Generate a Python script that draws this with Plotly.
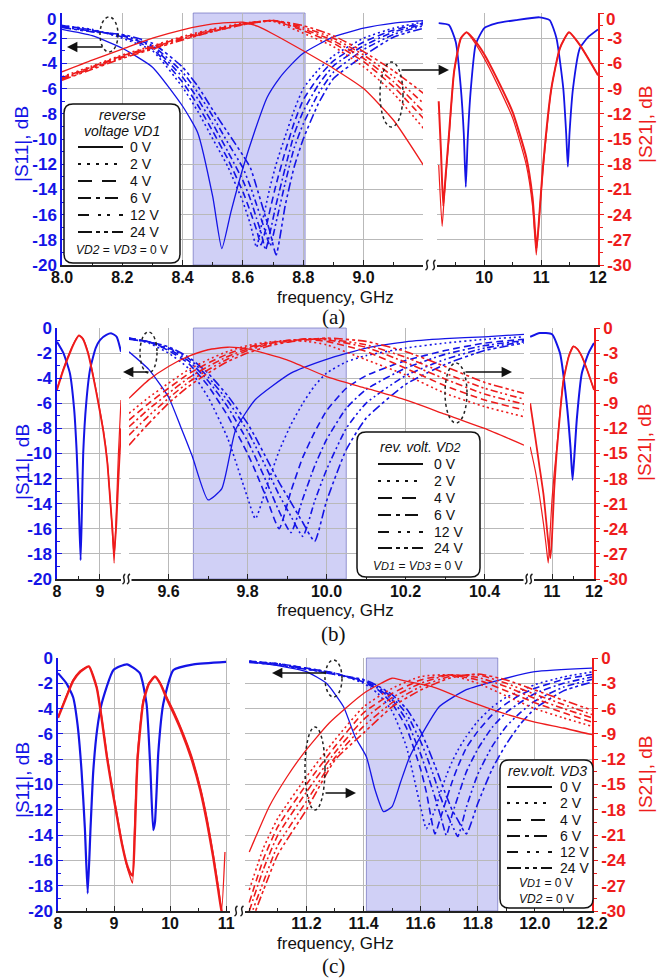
import plotly.graph_objects as go

# the page body has an 8px margin: figure is drawn 8px right/down of the window corner
OFF = 8
W, H = 666 - OFF, 978 - OFF
def px(x): return (x - OFF) / W
def py(y): return 1 - (y - OFF) / H

BLUE = "#1414e6"
RED = "#ee1c1c"
GRID = "#b9b9b9"
FONT = "Liberation Sans, Arial, sans-serif"
SERIF = "Liberation Serif, Times New Roman, serif"

VOLTS = ["0 V", "2 V", "4 V", "6 V", "12 V", "24 V"]
DASHES = ["solid", "2px,3px", "7px,4px", "7px,3px,2px,3px", "7px,3px,2px,3px,2px,3px", "9px,3px,3px,3px,3px,3px"]
LEG_DASHES = ["solid", "3px,6px", "14px,10px", "13px,5px,4px,5px", "11px,9px,3px,6px,3px,9px", "14px,4px,4px,4px,4px,4px"]

# ---------------- panel (a): reverse voltage VD1 ----------------
A_F11_0 = [8.0, 8.1, 8.2, 8.3, 8.4, 8.45, 8.5, 8.53, 8.56, 8.6, 8.64, 8.68, 8.72, 8.76, 8.8, 8.85, 8.9, 9.0, 9.1, 9.2]
A_S11_0 = [-1.3, -1.8, -2.8, -4.3, -7.4, -9.5, -14.6, -18.7, -15.8, -12.3, -9.3, -6.7, -5.2, -4.1, -3.2, -2.5, -1.9, -1.2, -0.8, -0.6]
A_F11 = [8.0, 8.1, 8.2, 8.3, 8.4, 8.45, 8.5, 8.55, 8.6, 8.625, 8.645, 8.66, 8.675, 8.69, 8.71, 8.74, 8.77, 8.8, 8.85, 8.9, 9.0, 9.1, 9.2]
A_S11_2 = [-1.0, -1.3, -2.0, -3.0, -5.9, -7.8, -10.0, -12.2, -15.0, -16.8, -18.6, -17.0, -15.4, -13.8, -12.0, -9.8, -7.7, -6.0, -4.5, -3.4, -2.0, -1.2, -0.7]
A_S11_4 = [-1.0, -1.35, -1.9, -2.85, -5.5, -7.3, -9.4, -11.6, -14.2, -15.8, -17.2, -18.4, -17.2, -15.6, -13.6, -11.0, -8.7, -6.9, -5.1, -3.8, -2.3, -1.35, -0.8]
A_S11_6 = [-1.05, -1.4, -1.8, -2.7, -5.1, -6.8, -8.8, -11.0, -13.3, -14.8, -16.3, -17.4, -18.8, -17.4, -15.2, -12.3, -9.6, -7.8, -5.7, -4.2, -2.6, -1.5, -0.9]
A_S11_12 = [-1.1, -1.45, -1.75, -2.6, -4.7, -6.3, -8.2, -10.3, -12.3, -13.8, -15.2, -16.3, -17.4, -18.5, -16.6, -13.5, -10.7, -8.8, -6.4, -4.7, -2.9, -1.7, -1.0]
A_S11_24 = [-1.15, -1.5, -1.7, -2.4, -4.3, -5.8, -7.7, -9.5, -11.3, -12.3, -13.8, -15.0, -16.2, -17.4, -19.2, -15.3, -12.2, -10.0, -7.2, -5.2, -3.4, -1.9, -1.2]

A_F21_0 = [8.0, 8.1, 8.2, 8.3, 8.4, 8.5, 8.6, 8.65, 8.7, 8.8, 8.9, 9.0, 9.1, 9.2]
A_S21_0 = [-7.0, -5.6, -4.3, -3.0, -2.0, -1.3, -1.1, -1.6, -2.5, -4.5, -6.6, -9.0, -12.8, -18.2]
A_F21 = [8.0, 8.1, 8.2, 8.3, 8.4, 8.5, 8.6, 8.7, 8.8, 8.9, 9.0, 9.1, 9.2]
A_S21_2 = [-7.6, -6.3, -5.0, -3.9, -2.8, -1.9, -1.2, -1.0, -2.4, -4.0, -6.4, -9.6, -13.8]
A_S21_4 = [-7.7, -6.4, -5.1, -4.0, -2.9, -2.0, -1.3, -0.9, -2.1, -3.6, -5.8, -8.8, -12.6]
A_S21_6 = [-7.8, -6.5, -5.2, -4.1, -3.0, -2.1, -1.3, -0.9, -1.9, -3.3, -5.4, -8.2, -11.8]
A_S21_12 = [-7.9, -6.6, -5.3, -4.2, -3.1, -2.2, -1.4, -0.9, -1.7, -3.0, -5.0, -7.6, -10.8]
A_S21_24 = [-8.0, -6.7, -5.4, -4.3, -3.2, -2.2, -1.4, -0.9, -1.5, -2.7, -4.6, -6.9, -9.6]

A_R_F11 = [9.2, 9.38, 9.5, 9.59, 9.64, 9.676, 9.71, 9.765, 9.85, 10.0, 10.21, 10.56, 10.97, 11.15, 11.27, 11.39, 11.44, 11.47, 11.5, 11.56, 11.68, 11.83, 12.0]
A_R_S11 = [-0.8, -0.95, -2.3, -6.0, -9.5, -13.8, -10.0, -6.0, -2.5, -1.2, -0.82, -0.56, -0.34, -0.56, -2.0, -6.0, -9.5, -12.2, -9.5, -6.0, -2.8, -1.9, -1.3]
A_R_F21_0 = [9.2, 9.26, 9.3, 9.38, 9.47, 9.59, 9.69, 9.8, 10.0, 10.21, 10.5, 10.74, 10.85, 10.915, 10.97, 11.03, 11.18, 11.33, 11.49, 11.68, 12.0]
A_R_S21_0 = [-18.1, -25.4, -21.5, -14.9, -7.0, -3.0, -2.3, -3.2, -5.4, -8.2, -12.5, -18.1, -23.0, -28.8, -24.0, -18.9, -9.0, -4.2, -2.3, -3.8, -7.4]
A_R_F21_V = [9.2, 9.24, 9.28, 9.32, 9.38, 9.47, 9.59, 9.69, 9.8, 10.0, 10.21, 10.5, 10.74, 10.85, 10.92, 10.97, 11.03, 11.18, 11.33, 11.49, 11.68, 12.0]
A_R_S21_V = [-10.5, -16.5, -23.0, -19.5, -14.5, -7.0, -3.0, -2.3, -3.0, -4.9, -7.6, -11.8, -17.2, -22.0, -28.0, -24.0, -18.5, -9.0, -4.2, -2.3, -3.8, -7.4]

# ---------------- panel (b): reverse voltage VD2 ----------------
B_L_F11 = [8.0, 8.15, 8.3, 8.4, 8.46, 8.51, 8.55, 8.58, 8.61, 8.68, 8.77, 8.9, 9.0, 9.15, 9.27, 9.39, 9.49]
B_L_S11 = [-1.1, -2.0, -3.6, -6.5, -10.0, -14.5, -18.5, -14.5, -10.0, -6.0, -3.3, -1.6, -0.96, -0.55, -0.43, -0.7, -1.9]
B_L_F21 = [8.0, 8.15, 8.3, 8.42, 8.51, 8.6, 8.72, 8.85, 8.97, 9.08, 9.17, 9.23, 9.29, 9.33, 9.38, 9.43, 9.49]
B_L_S21_0 = [-7.2, -4.8, -2.8, -1.5, -0.84, -1.2, -2.8, -5.8, -9.0, -12.2, -15.8, -19.8, -24.5, -28.1, -22.0, -15.0, -8.6]
B_L_S21_V = [-7.4, -5.0, -3.0, -1.6, -0.9, -1.3, -3.0, -6.0, -9.2, -12.4, -16.0, -20.0, -24.0, -27.0, -23.5, -18.0, -12.0]

B_M_F0 = [9.5, 9.55, 9.6, 9.63, 9.66, 9.70, 9.735, 9.77, 9.82, 9.91, 10.0, 10.1, 10.2, 10.3, 10.4, 10.5]
B_M_S11_0 = [-1.9, -3.3, -5.5, -7.8, -10.2, -13.7, -12.8, -8.1, -5.7, -3.6, -2.5, -1.6, -1.1, -0.85, -0.7, -0.5]
B_M_F = [9.5, 9.55, 9.6, 9.65, 9.7, 9.75, 9.8, 9.82, 9.85, 9.88, 9.91, 9.94, 9.97, 10.0, 10.05, 10.1, 10.2, 10.3, 10.4, 10.5]
B_M_S11_2 = [-0.8, -1.2, -2.0, -3.2, -5.5, -8.8, -13.5, -15.2, -12.5, -9.8, -7.7, -6.0, -4.6, -3.6, -2.7, -2.2, -1.6, -1.2, -0.9, -0.7]
B_M_S11_4 = [-0.8, -1.1, -1.8, -2.8, -4.6, -7.0, -10.0, -11.4, -13.7, -16.0, -13.0, -10.3, -8.3, -6.6, -4.8, -3.8, -2.6, -1.8, -1.2, -0.9]
B_M_S11_6 = [-0.85, -1.1, -1.7, -2.6, -4.2, -6.3, -9.0, -10.3, -12.4, -14.6, -16.3, -13.6, -11.0, -8.9, -6.4, -4.9, -3.2, -2.1, -1.4, -1.0]
B_M_S11_12 = [-0.85, -1.1, -1.6, -2.4, -3.9, -5.8, -8.2, -9.4, -11.3, -13.3, -15.0, -16.6, -13.8, -11.3, -8.0, -6.0, -3.8, -2.5, -1.6, -1.1]
B_M_S11_24 = [-0.9, -1.1, -1.5, -2.3, -3.6, -5.4, -7.6, -8.7, -10.5, -12.3, -13.9, -15.5, -17.0, -13.8, -9.7, -7.2, -4.5, -2.9, -1.8, -1.2]

B_M_F21_0 = [9.5, 9.55, 9.6, 9.65, 9.7, 9.75, 9.8, 9.9, 10.0, 10.1, 10.2, 10.3, 10.4, 10.5]
B_M_S21_0 = [-8.4, -6.2, -4.6, -3.4, -2.6, -2.3, -2.5, -3.8, -5.8, -7.2, -8.6, -10.3, -12.0, -14.0]
B_M_F21 = [9.5, 9.55, 9.6, 9.65, 9.7, 9.75, 9.8, 9.85, 9.9, 9.95, 10.0, 10.1, 10.2, 10.3, 10.4, 10.5]
B_M_S21_2 = [-10.2, -8.3, -6.6, -5.0, -3.8, -2.8, -2.1, -1.7, -1.5, -1.6, -2.0, -3.8, -5.6, -7.8, -9.4, -10.6]
B_M_S21_4 = [-11.0, -9.0, -7.2, -5.5, -4.2, -3.1, -2.3, -1.8, -1.5, -1.4, -1.6, -2.8, -4.8, -6.9, -8.6, -9.8]
B_M_S21_6 = [-11.8, -9.7, -7.8, -6.0, -4.6, -3.4, -2.5, -1.9, -1.5, -1.3, -1.4, -2.3, -4.1, -6.1, -7.9, -9.1]
B_M_S21_12 = [-12.8, -10.5, -8.4, -6.5, -5.0, -3.7, -2.7, -2.0, -1.6, -1.3, -1.3, -2.0, -3.5, -5.4, -7.2, -8.5]
B_M_S21_24 = [-14.0, -11.4, -9.0, -7.0, -5.4, -4.0, -3.0, -2.2, -1.7, -1.4, -1.2, -1.6, -2.8, -4.6, -6.5, -7.8]

B_R_F11 = [10.48, 10.71, 11.0, 11.19, 11.35, 11.44, 11.49, 11.54, 11.59, 11.71, 11.87, 12.0]
B_R_S11 = [-0.7, -0.4, -0.5, -2.0, -6.0, -9.5, -12.1, -9.8, -7.3, -3.6, -2.0, -1.2]
B_R_F21 = [10.48, 10.6, 10.7, 10.8, 10.86, 10.91, 10.96, 11.0, 11.05, 11.11, 11.2, 11.27, 11.4, 11.51, 11.6, 11.71, 11.85, 12.0]
B_R_S21_0 = [-14.2, -17.0, -20.0, -23.5, -26.0, -28.1, -24.0, -20.5, -17.5, -14.5, -9.5, -6.2, -3.3, -2.2, -2.5, -3.4, -5.2, -7.4]
B_R_S21_V = [-9.0, -13.0, -16.5, -20.0, -23.0, -25.5, -27.5, -25.0, -19.5, -15.0, -9.8, -6.4, -3.4, -2.2, -2.5, -3.4, -5.2, -7.4]

# ---------------- panel (c): reverse voltage VD3 ----------------
C_L_F11 = [8.0, 8.15, 8.27, 8.35, 8.42, 8.48, 8.53, 8.58, 8.63, 8.7, 8.78, 8.99, 9.23, 9.46, 9.58, 9.65, 9.7, 9.73, 9.76, 9.79, 9.88, 10.06, 10.42, 11.0]
C_L_S11 = [-1.2, -2.0, -3.1, -5.3, -8.9, -13.5, -18.6, -13.5, -8.9, -5.6, -3.6, -0.95, -0.5, -1.2, -3.6, -8.9, -13.6, -13.0, -10.5, -7.5, -3.6, -0.95, -0.5, -0.3]
C_L_F21 = [8.0, 8.15, 8.27, 8.4, 8.55, 8.69, 8.78, 8.87, 8.96, 9.05, 9.14, 9.23, 9.29, 9.33, 9.37, 9.42, 9.52, 9.62, 9.73, 9.83, 9.94, 10.08, 10.21, 10.38, 10.54, 10.66, 10.77, 10.86, 10.92, 10.98]
C_L_S21_0 = [-7.0, -4.5, -2.6, -1.5, -1.0, -3.4, -7.0, -11.3, -15.0, -18.4, -21.8, -24.7, -26.0, -26.7, -19.5, -11.3, -5.0, -3.0, -2.2, -3.0, -4.6, -6.5, -8.5, -11.5, -15.3, -19.0, -23.2, -27.0, -29.9, -23.0]
C_L_S21_V = [-7.1, -4.6, -2.7, -1.6, -1.0, -3.5, -7.2, -11.6, -15.3, -18.7, -22.0, -24.5, -25.5, -25.8, -21.0, -12.0, -5.3, -3.1, -2.2, -3.1, -4.8, -6.8, -8.8, -11.9, -15.7, -19.5, -23.6, -27.5, -30.0, -31.0]

C_R_F0 = [11.0, 11.1, 11.2, 11.27, 11.33, 11.37, 11.41, 11.44, 11.47, 11.50, 11.53, 11.56, 11.6, 11.665, 11.76, 11.875, 12.0, 12.2]
C_R_S11_0 = [-0.29, -0.6, -1.08, -2.0, -3.85, -6.2, -7.8, -10.4, -12.15, -11.75, -9.8, -7.9, -6.2, -3.85, -2.5, -1.74, -1.08, -0.8]
C_R_F = [11.0, 11.1, 11.2, 11.3, 11.4, 11.45, 11.5, 11.55, 11.6, 11.62, 11.65, 11.67, 11.69, 11.71, 11.73, 11.76, 11.8, 11.85, 11.9, 11.95, 12.0, 12.1, 12.2]
C_R_S11_2 = [-0.25, -0.45, -0.8, -1.2, -2.0, -2.8, -4.2, -7.0, -11.8, -13.5, -12.0, -10.6, -9.3, -8.2, -7.3, -6.2, -5.0, -3.9, -3.1, -2.6, -2.1, -1.5, -1.1]
C_R_S11_4 = [-0.25, -0.45, -0.8, -1.2, -1.9, -2.5, -3.6, -5.5, -8.8, -10.6, -13.9, -12.6, -11.2, -9.8, -8.6, -7.1, -5.8, -4.5, -3.6, -2.9, -2.4, -1.7, -1.3]
C_R_S11_6 = [-0.3, -0.5, -0.85, -1.25, -1.8, -2.4, -3.3, -4.9, -7.6, -8.9, -11.0, -12.5, -14.0, -12.4, -11.0, -9.0, -7.2, -5.5, -4.3, -3.5, -2.8, -2.0, -1.5]
C_R_S11_12 = [-0.3, -0.5, -0.85, -1.3, -1.8, -2.3, -3.1, -4.4, -6.6, -7.7, -9.6, -11.0, -12.2, -13.2, -14.1, -11.8, -9.2, -7.0, -5.4, -4.3, -3.4, -2.3, -1.7]
C_R_S11_24 = [-0.35, -0.55, -0.9, -1.3, -1.7, -2.2, -2.9, -4.0, -5.8, -6.8, -8.5, -9.7, -10.9, -12.0, -12.8, -13.9, -11.5, -8.8, -6.8, -5.2, -4.0, -2.6, -1.9]

C_R_F21_0 = [11.0, 11.07, 11.13, 11.19, 11.28, 11.4, 11.5, 11.53, 11.64, 11.76, 11.875, 12.0, 12.1, 12.2]
C_R_S21_0 = [-23.0, -17.6, -14.2, -11.3, -7.7, -4.2, -2.4, -2.6, -3.4, -5.0, -6.4, -7.6, -8.3, -9.1]
C_R_F21 = [11.0, 11.05, 11.1, 11.2, 11.3, 11.4, 11.5, 11.6, 11.7, 11.8, 11.9, 12.0, 12.1, 12.2]
C_R_S21_2 = [-27.5, -22.5, -19.0, -14.1, -9.7, -5.8, -3.6, -2.2, -2.0, -3.0, -4.5, -6.0, -7.1, -8.1]
C_R_S21_4 = [-29.0, -23.8, -20.0, -15.0, -10.5, -6.5, -4.2, -2.6, -2.0, -2.6, -3.9, -5.3, -6.5, -7.6]
C_R_S21_6 = [-30.0, -25.0, -21.0, -15.9, -11.2, -7.3, -4.7, -3.0, -2.0, -2.3, -3.4, -4.8, -6.0, -7.1]
C_R_S21_12 = [-31.0, -26.5, -22.2, -17.0, -11.8, -8.1, -5.3, -3.4, -2.2, -2.0, -3.0, -4.3, -5.5, -6.7]
C_R_S21_24 = [-32.0, -27.5, -23.3, -18.0, -12.1, -8.9, -5.8, -3.8, -2.4, -1.9, -2.6, -3.8, -5.0, -6.2]

# ---------------- axis ticks ----------------
Y11_TICKS = [0, -2, -4, -6, -8, -10, -12, -14, -16, -18, -20]
Y21_TICKS = [0, -3, -6, -9, -12, -15, -18, -21, -24, -27, -30]
XA1_TICKS = [8.0, 8.2, 8.4, 8.6, 8.8, 9.0]
XA2_TICKS = [10, 11, 12]
XB1_TICKS = [8, 9]
XB2_TICKS = [9.6, 9.8, 10.0, 10.2, 10.4]
XB3_TICKS = [11, 12]
XC1_TICKS = [8, 9, 10, 11]
XC2_TICKS = [11.2, 11.4, 11.6, 11.8, 12.0, 12.2]

fig = go.Figure()

def add(x, y, xa, ya, color, dash="solid", width=1.4):
    fig.add_trace(go.Scatter(x=x, y=y, xaxis=xa, yaxis=ya, mode="lines",
                             line=dict(color=color, dash=dash, width=width, shape="spline", smoothing=0.5),
                             hoverinfo="skip", showlegend=False))

# panel a
add(A_F11_0, A_S11_0, "x", "y", BLUE, DASHES[0], 1.3)
for arr, d in zip([A_S11_2, A_S11_4, A_S11_6, A_S11_12, A_S11_24], DASHES[1:]):
    add(A_F11, arr, "x", "y", BLUE, d, 1.6)
add(A_F21_0, A_S21_0, "x", "y2", RED, DASHES[0], 1.3)
for arr, d in zip([A_S21_2, A_S21_4, A_S21_6, A_S21_12, A_S21_24], DASHES[1:]):
    add(A_F21, arr, "x", "y2", RED, d, 1.6)
add(A_R_F11, A_R_S11, "x2", "y", BLUE, "solid", 1.8)
add(A_R_F21_V, A_R_S21_V, "x2", "y2", RED, "solid", 2.0)
add(A_R_F21_0, A_R_S21_0, "x2", "y2", RED, "solid", 1.2)

# panel b
add(B_L_F11, B_L_S11, "x3", "y3", BLUE, "solid", 2.0)
add(B_L_F21, B_L_S21_V, "x3", "y4", RED, "solid", 1.8)
add(B_L_F21, B_L_S21_0, "x3", "y4", RED, "solid", 1.2)
add(B_M_F0, B_M_S11_0, "x4", "y3", BLUE, DASHES[0], 1.3)
for arr, d in zip([B_M_S11_2, B_M_S11_4, B_M_S11_6, B_M_S11_12, B_M_S11_24], DASHES[1:]):
    add(B_M_F, arr, "x4", "y3", BLUE, d, 1.6)
add(B_M_F21_0, B_M_S21_0, "x4", "y4", RED, DASHES[0], 1.3)
for arr, d in zip([B_M_S21_2, B_M_S21_4, B_M_S21_6, B_M_S21_12, B_M_S21_24], DASHES[1:]):
    add(B_M_F21, arr, "x4", "y4", RED, d, 1.6)
add(B_R_F11, B_R_S11, "x5", "y3", BLUE, "solid", 2.0)
add(B_R_F21, B_R_S21_V, "x5", "y4", RED, "solid", 1.8)
add(B_R_F21, B_R_S21_0, "x5", "y4", RED, "solid", 1.2)

# panel c
add(C_L_F11, C_L_S11, "x6", "y5", BLUE, "solid", 2.2)
add(C_L_F21, C_L_S21_V, "x6", "y6", RED, "solid", 2.4)
add(C_L_F21, C_L_S21_0, "x6", "y6", RED, "solid", 1.3)
add(C_R_F0, C_R_S11_0, "x7", "y5", BLUE, DASHES[0], 1.3)
for arr, d in zip([C_R_S11_2, C_R_S11_4, C_R_S11_6, C_R_S11_12, C_R_S11_24], DASHES[1:]):
    add(C_R_F, arr, "x7", "y5", BLUE, d, 1.6)
add(C_R_F21_0, C_R_S21_0, "x7", "y6", RED, DASHES[0], 1.3)
for arr, d in zip([C_R_S21_2, C_R_S21_4, C_R_S21_6, C_R_S21_12, C_R_S21_24], DASHES[1:]):
    add(C_R_F21, arr, "x7", "y6", RED, d, 1.6)

TICKX = dict(family=FONT, size=16, color="#111", weight="bold")

def fmt(v, dec):
    return f"{v:.{dec}f}"

def xax(d0, d1, rng, ticks, dec, mdt, mt0, anchor):
    return dict(domain=[px(d0), px(d1)], range=rng, tickmode="array", tickvals=ticks,
                ticktext=[fmt(t, dec) for t in ticks], anchor=anchor, automargin=False,
                showline=True, linecolor="#222", linewidth=1.5, ticks="inside", ticklen=5,
                tickcolor="#222", tickwidth=1.2, showgrid=True, gridcolor=GRID, gridwidth=1,
                zeroline=False, tickfont=TICKX, fixedrange=True, ticklabelstandoff=-3,
                ticklabeloverflow="allow",
                minor=dict(tickmode="linear", tick0=mt0, dtick=mdt, ticks="inside", ticklen=3,
                           tickcolor="#222", showgrid=False))

def yleft(t, b, anchor, hide_top=False):
    labels = [("" if (hide_top and v == 0) else str(v)) for v in Y11_TICKS]
    return dict(domain=[py(b), py(t)], range=[-20, 0], tickmode="array", tickvals=Y11_TICKS,
                ticktext=labels, anchor=anchor, showline=True, automargin=False,
                linecolor=BLUE, linewidth=1.5, ticks="inside", ticklen=5, tickcolor=BLUE,
                showgrid=True, gridcolor=GRID, gridwidth=1, zeroline=False, fixedrange=True,
                ticklabeloverflow="allow",
                tickfont=dict(family=FONT, size=17, color=BLUE, weight="bold"),
                minor=dict(tickmode="linear", tick0=0, dtick=1, ticks="inside", ticklen=3,
                           tickcolor=BLUE, showgrid=False))

def yright(over, anchor, hide_top=False):
    labels = [("" if (hide_top and v == 0) else str(v)) for v in Y21_TICKS]
    return dict(overlaying=over, side="right", anchor=anchor, range=[-30, 0], tickmode="array",
                tickvals=Y21_TICKS, ticktext=labels, showline=True,
                automargin=False, ticklabeloverflow="allow",
                linecolor=RED, linewidth=1.5, ticks="outside", ticklen=4, tickcolor=RED,
                showgrid=False, zeroline=False, fixedrange=True,
                tickfont=dict(family=FONT, size=17, color=RED, weight="bold"),
                minor=dict(tickmode="linear", tick0=0, dtick=1.5, ticks="outside", ticklen=3,
                           tickcolor=RED, showgrid=False))

fig.update_layout(
    width=W, height=H, margin=dict(l=0, r=0, t=0, b=0, autoexpand=False),
    paper_bgcolor="white", plot_bgcolor="white", showlegend=False,
    xaxis=xax(62, 423, [8.0, 9.197], XA1_TICKS, 1, 0.1, 8.0, "y"),
    xaxis2=xax(437, 598, [9.17, 12.0], XA2_TICKS, 0, 0.5, 9.5, "y"),
    yaxis=yleft(13, 265, "x", hide_top=True),
    yaxis2=yright("y", "x2", hide_top=True),
    xaxis3=xax(57, 121, [8.0, 9.49], XB1_TICKS, 0, 0.5, 8.0, "y3"),
    xaxis4=xax(129, 524, [9.5, 10.5], XB2_TICKS, 1, 0.1, 9.5, "y3"),
    xaxis5=xax(530, 594, [10.476, 12.0], XB3_TICKS, 0, 0.5, 10.5, "y3"),
    yaxis3=yleft(328, 579, "x3"),
    yaxis4=yright("y3", "x5"),
    xaxis6=xax(58, 230, [8.0, 11.07], XC1_TICKS, 0, 0.5, 8.0, "y5"),
    xaxis7=xax(245, 592, [10.985, 12.2], XC2_TICKS, 1, 0.1, 11.0, "y5"),
    yaxis5=yleft(658, 911, "x6"),
    yaxis6=yright("y5", "x7"),
)

shapes = []
ann = []

# top "0" labels of panel (a), placed just inside the page edge
ann.append(dict(x=px(58), y=1, xref="paper", yref="paper", text="0", showarrow=False,
                xanchor="right", yanchor="top", font=dict(family=FONT, size=17, color=BLUE, weight="bold")))
ann.append(dict(x=px(604), y=1, xref="paper", yref="paper", text="0", showarrow=False,
                xanchor="left", yanchor="top", font=dict(family=FONT, size=17, color=RED, weight="bold")))

# pass-band shading
for xr, yr, x0, x1 in [("x", "y", 8.435, 8.806), ("x4", "y3", 9.663, 10.05), ("x7", "y5", 11.41, 11.87)]:
    shapes.append(dict(type="rect", xref=xr, yref=yr + " domain", x0=x0, x1=x1, y0=0, y1=1,
                       fillcolor="rgba(200,200,244,0.85)", line=dict(color="rgba(110,110,190,0.7)", width=1),
                       layer="below"))

# axis break marks
def squiggle(xc, yc):
    pts = [(xc - 1.5, yc + 5), (xc + 4, yc + 2), (xc - 4, yc - 2), (xc + 1.5, yc - 5)]
    p = [f"{px(a):.5f},{py(b):.5f}" for a, b in pts]
    return f"M {p[0]} C {p[1]} {p[2]} {p[3]}"

for xc, yc in [(427, 265), (434, 265), (124, 579), (128.5, 579), (526.5, 579), (531, 579), (236, 911), (242, 911)]:
    shapes.append(dict(type="rect", xref="paper", yref="paper", x0=px(xc - 3), x1=px(xc + 3),
                       y0=py(yc + 6), y1=py(yc - 6), fillcolor="white", line=dict(width=0)))
    shapes.append(dict(type="path", xref="paper", yref="paper", path=squiggle(xc, yc),
                       line=dict(color="#222", width=1.5)))

# dotted ellipses and arrows
for cx, cy, rx, ry in [(109, 34.5, 9, 17.5), (391.5, 94.5, 11.5, 32.5), (148.5, 352.5, 8.5, 20.5),
                       (456, 393, 11, 30), (333.5, 678.5, 8.5, 18.5), (315, 768.5, 10, 41.5)]:
    shapes.append(dict(type="circle", xref="paper", yref="paper", x0=px(cx - rx), x1=px(cx + rx),
                       y0=py(cy + ry), y1=py(cy - ry), line=dict(color="#222", width=1.5, dash="dot")))

for hx, hy, tx, ty in [(67, 47, 104, 47), (449, 70, 400, 70), (123, 372, 150, 372),
                       (512, 372, 464, 372), (272, 673, 327, 673), (356, 793, 324, 793)]:
    ann.append(dict(x=px(hx), y=py(hy), xref="paper", yref="paper", ax=tx - hx, ay=ty - hy,
                    axref="pixel", ayref="pixel", showarrow=True, arrowhead=2, arrowsize=1.3,
                    arrowwidth=1.6, arrowcolor="#111", text=""))

# legends
def rrect(x0, y0, x1, y1, r):
    P = lambda a, b: f"{px(a):.5f},{py(b):.5f}"
    return (f"M {P(x0 + r, y0)} L {P(x1 - r, y0)} Q {P(x1, y0)} {P(x1, y0 + r)} "
            f"L {P(x1, y1 - r)} Q {P(x1, y1)} {P(x1 - r, y1)} L {P(x0 + r, y1)} "
            f"Q {P(x0, y1)} {P(x0, y1 - r)} L {P(x0, y0 + r)} Q {P(x0, y0)} {P(x0 + r, y0)} Z")

def text(x, y, s, size=16, color="#111", family=FONT, xanchor="center", angle=0):
    ann.append(dict(x=px(x), y=py(y), xref="paper", yref="paper", text=s, showarrow=False,
                    xanchor=xanchor, yanchor="middle", textangle=angle,
                    font=dict(family=family, size=size, color=color)))

def legend(box, heads, rows, lx0, lx1, tx, foots, size):
    x0, y0, x1, y1 = box
    shapes.append(dict(type="path", xref="paper", yref="paper", path=rrect(x0, y0, x1, y1, 9),
                       fillcolor="white", line=dict(color="#111", width=1.5), layer="above"))
    for (hx, hy, s) in heads:
        text(hx, hy, s, size)
    for yy, lab, d in zip(rows, VOLTS, LEG_DASHES):
        shapes.append(dict(type="line", xref="paper", yref="paper", x0=px(lx0), x1=px(lx1),
                           y0=py(yy), y1=py(yy), line=dict(color="#111", width=2.2, dash=d), layer="above"))
        text(tx, yy, lab, size, xanchor="left")
    for (fx, fy, s) in foots:
        text(fx, fy, s, size - 2)

legend((64, 104, 180, 263),
       [(122, 115, "<i>reverse</i>"), (122, 131, "<i>voltage VD1</i>")],
       [147, 164, 181, 198, 215, 232], 78, 123, 128,
       [(122, 250, "<i>VD2</i> = <i>VD3</i> = 0 V")], 14)
legend((357, 432, 480, 577),
       [(420, 447, "<i>rev. volt. V<span style='font-size:12px'>D2</span></i>")],
       [464, 481, 498, 515, 532, 548], 378, 423, 432,
       [(418, 566, "<i>V<span style='font-size:11px'>D1</span></i> = <i>V<span style='font-size:11px'>D3</span></i> = 0 V")], 14)
legend((500, 760, 593, 908),
       [(547, 771, "<i>rev.volt. VD3</i>")],
       [787, 803, 820, 836, 852, 868], 507, 552, 558,
       [(546, 883, "<i>V<span style='font-size:11px'>D1</span></i> = 0 V"),
        (546, 899, "<i>VD2</i> = 0 V")], 14)

# axis titles and panel letters
for ly, ry, fy, ly2, lab in [(144, 125, 297, 317, "(a)"), (462, 443, 610, 634, "(b)"), (780, 775, 943, 966, "(c)")]:
    text(22, ly, "|S11|, dB", 19, BLUE, angle=-90)
    text(645, ry, "|S21|, dB", 19, RED, angle=-90)
    text(335, fy, "frequency, GHz", 17, "#111")
    text(333, ly2, lab, 21, "#111", family=SERIF)

fig.update_layout(shapes=shapes, annotations=ann)
fig.write_html("out.html", config={"displayModeBar": False})
